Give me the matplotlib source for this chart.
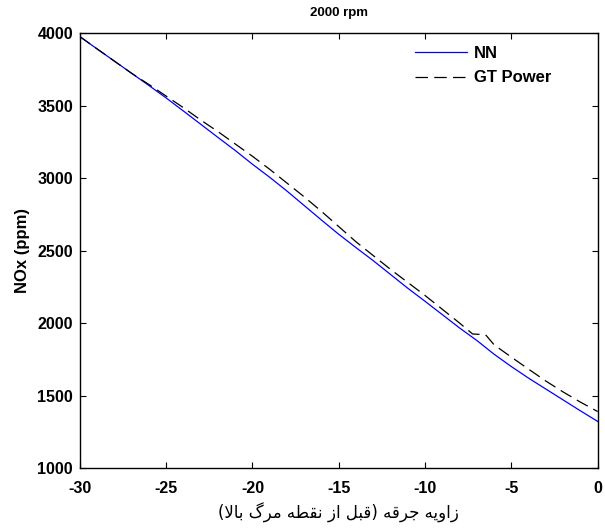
import matplotlib
matplotlib.use('Agg')
import matplotlib.pyplot as plt

# NN prediction (blue, solid)
nn_x = list(range(-30, 1))
nn_y = [3975, 3890, 3806, 3722, 3638, 3552, 3462, 3371, 3280, 3190,
        3095, 3005, 2910, 2810, 2710, 2612, 2520, 2430, 2335, 2240,
        2150, 2058, 1966, 1880, 1785, 1700, 1620, 1545, 1470, 1395, 1322]

# GT Power simulation (black, dashed)
gt_x = [-30, -29, -28, -27, -26, -25, -24, -23, -22, -21, -20, -19, -18, -17,
        -16, -15, -14, -13, -12, -11, -10, -9, -8, -7.25, -6.5, -6, -5, -4,
        -3, -2, -1, 0]
gt_y = [3975, 3890, 3806, 3722, 3645, 3565, 3485, 3400, 3320, 3235, 3150,
        3060, 2965, 2870, 2770, 2665, 2560, 2465, 2370, 2280, 2190, 2095,
        2000, 1925, 1920, 1850, 1765, 1682, 1600, 1525, 1455, 1390]

x_ticks = [-30, -25, -20, -15, -10, -5, 0]
y_ticks = [1000, 1500, 2000, 2500, 3000, 3500, 4000]

title = '2000 rpm'
ylabel = 'NOx (ppm)'
# "زاویه جرقه (قبل از نقطه مرگ بالا)" in shaped glyphs, visual order
xlabel = ('(\uFEFB\uFE8E\uFE91 \uFB92\uFEAE\uFEE3 \uFEEA\uFEC4\uFED8\uFEE7 '
          '\uFEAF\uFE8D \uFEDE\uFE92\uFED7) \uFEEA\uFED7\uFEAE\uFE9F '
          '\uFEEA\uFBFE\uFEED\uFE8D\uFEAF')

plt.rcParams['font.family'] = ['Liberation Sans', 'DejaVu Sans']
plt.rcParams['axes.unicode_minus'] = False

fig = plt.figure(figsize=(6.05, 5.32), dpi=100)
ax = fig.add_axes([0.132, 0.120, 0.856, 0.818])

ax.plot(nn_x, nn_y, color='blue', lw=0.9, label='NN')
ax.plot(gt_x, gt_y, color='black', lw=0.9, ls=(0, (10, 5)), label='GT Power')

ax.set_xlim(-30, 0)
ax.set_ylim(1000, 4000)
ax.set_xticks(x_ticks)
ax.set_yticks(y_ticks)
ax.tick_params(direction='in', top=True, right=True, length=4, width=0.8,
               labelsize=11.5)
ax.tick_params(axis='x', pad=9)
ax.tick_params(axis='y', pad=5)
for lab in ax.get_xticklabels() + ax.get_yticklabels():
    lab.set_fontweight('bold')
for sp in ax.spines.values():
    sp.set_linewidth(1.0)

ax.set_title(title, fontsize=9.5, fontweight='bold', pad=12.5)
ax.set_ylabel(ylabel, fontsize=12, fontweight='bold', labelpad=5)
ax.set_xlabel(xlabel, fontsize=12, family=['DejaVu Sans'], labelpad=5)

leg = ax.legend(loc='upper right', frameon=False,
                prop={'weight': 'bold', 'size': 12}, handlelength=3.1,
                handletextpad=0.45, labelspacing=0.55,
                bbox_to_anchor=(0.94, 1.004))

fig.savefig('out.png', dpi=100)
